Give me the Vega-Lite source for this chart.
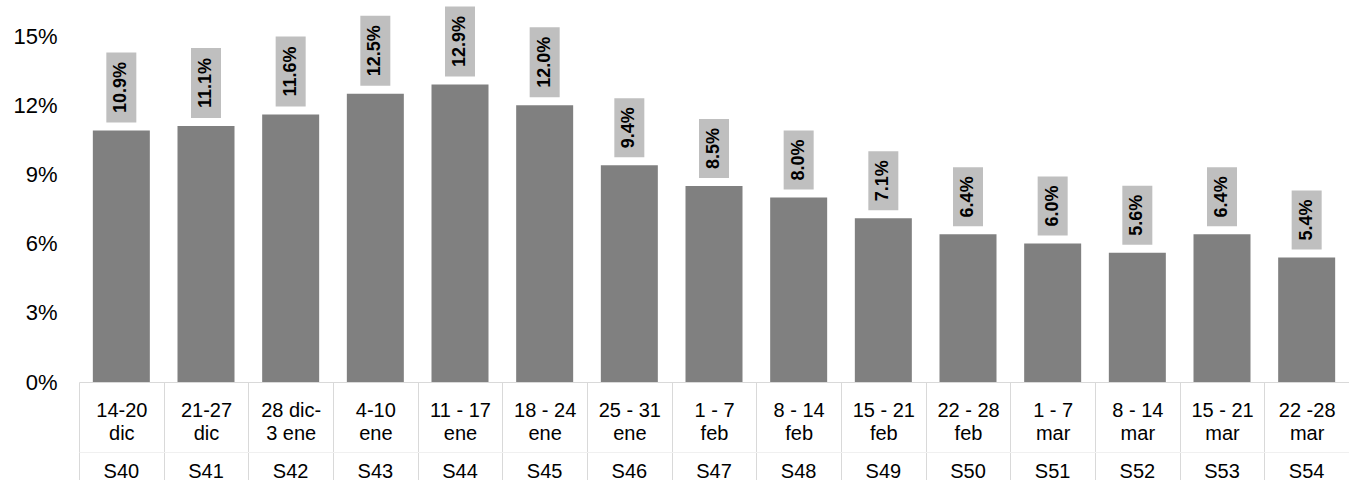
{
  "$schema": "https://vega.github.io/schema/vega-lite/v6.json",
  "width": 1270,
  "height": 346,
  "autosize": {"type": "none"},
  "padding": {"left": 79, "top": 36, "right": 0, "bottom": 98},
  "background": "white",
  "config": {
    "view": {"stroke": null},
    "font": "Liberation Sans"
  },
  "data": {
    "values": [
      {"label": "14-20|dic|S40", "v": 0.109},
      {"label": "21-27|dic|S41", "v": 0.111},
      {"label": "28 dic-|3 ene|S42", "v": 0.116},
      {"label": "4-10|ene|S43", "v": 0.125},
      {"label": "11 - 17|ene|S44", "v": 0.129},
      {"label": "18 - 24|ene|S45", "v": 0.120},
      {"label": "25 - 31|ene|S46", "v": 0.094},
      {"label": "1 - 7|feb|S47", "v": 0.085},
      {"label": "8 - 14|feb|S48", "v": 0.080},
      {"label": "15 - 21|feb|S49", "v": 0.071},
      {"label": "22 - 28|feb|S50", "v": 0.064},
      {"label": "1 - 7|mar|S51", "v": 0.060},
      {"label": "8 - 14|mar|S52", "v": 0.056},
      {"label": "15 - 21|mar|S53", "v": 0.064},
      {"label": "22 -28|mar|S54", "v": 0.054}
    ]
  },
  "resolve": {"axis": {"x": "independent"}},
  "encoding": {
    "y": {
      "field": "v",
      "type": "quantitative",
      "scale": {"domain": [0, 0.15]},
      "axis": {
        "title": null,
        "format": ".0%",
        "values": [0, 0.03, 0.06, 0.09, 0.12, 0.15],
        "domain": false,
        "ticks": false,
        "grid": false,
        "labelFontSize": 22,
        "labelColor": "#000000",
        "labelFont": "Liberation Sans",
        "labelPadding": 22
      }
    }
  },
  "layer": [
    {
      "mark": {"type": "bar", "color": "#808080", "width": 57},
      "encoding": {
        "x": {
          "field": "label",
          "type": "nominal",
          "sort": null,
          "scale": {"paddingInner": 0, "paddingOuter": 0},
          "axis": {
            "orient": "bottom",
            "title": null,
            "labelAngle": 0,
            "labelFontSize": 20,
            "labelColor": "#000000",
            "labelFont": "Liberation Sans",
            "labelBaseline": "alphabetic",
            "labelLineHeight": 23.3,
            "labelPadding": -63.5,
            "labelOverlap": false,
            "labelBound": false,
            "labelFlush": false,
            "labelExpr": "[split(datum.label,'|')[0], split(datum.label,'|')[1]]",
            "tickBand": "extent",
            "tickSize": 98,
            "tickColor": "#d9d9d9",
            "tickWidth": 1,
            "domainColor": "#d9d9d9",
            "domainWidth": 1
          }
        }
      }
    },
    {
      "transform": [{"filter": "datum.v >= 0.1"}],
      "mark": {"type": "bar", "color": "#bfbfbf", "width": 30, "yOffset": -8, "y2Offset": -78},
      "encoding": {
        "x": {
          "field": "label",
          "type": "nominal",
          "sort": null,
          "axis": {
            "orient": "bottom",
            "title": null,
            "labelAngle": 0,
            "labelFontSize": 20,
            "labelColor": "#000000",
            "labelFont": "Liberation Sans",
            "labelBaseline": "alphabetic",
            "labelPadding": 25,
            "labelOverlap": false,
            "labelBound": false,
            "labelFlush": false,
            "labelExpr": "split(datum.label,'|')[2]",
            "ticks": false,
            "offset": 70,
            "domainColor": "#f0f0f0",
            "domainWidth": 1
          }
        },
        "y2": {"field": "v"}
      }
    },
    {
      "transform": [{"filter": "datum.v < 0.1"}],
      "mark": {"type": "bar", "color": "#bfbfbf", "width": 30, "yOffset": -8, "y2Offset": -67},
      "encoding": {
        "x": {"field": "label", "type": "nominal", "sort": null, "axis": null},
        "y2": {"field": "v"}
      }
    },
    {
      "transform": [{"filter": "datum.v >= 0.1"}],
      "mark": {"type": "text", "angle": 270, "align": "center", "baseline": "middle", "fontWeight": "bold", "fontSize": 18, "color": "#000000", "yOffset": -43},
      "encoding": {
        "x": {"field": "label", "type": "nominal", "sort": null, "axis": null},
        "text": {"field": "v", "type": "quantitative", "format": ".1%"}
      }
    },
    {
      "transform": [{"filter": "datum.v < 0.1"}],
      "mark": {"type": "text", "angle": 270, "align": "center", "baseline": "middle", "fontWeight": "bold", "fontSize": 18, "color": "#000000", "yOffset": -37.5},
      "encoding": {
        "x": {"field": "label", "type": "nominal", "sort": null, "axis": null},
        "text": {"field": "v", "type": "quantitative", "format": ".1%"}
      }
    }
  ]
}
